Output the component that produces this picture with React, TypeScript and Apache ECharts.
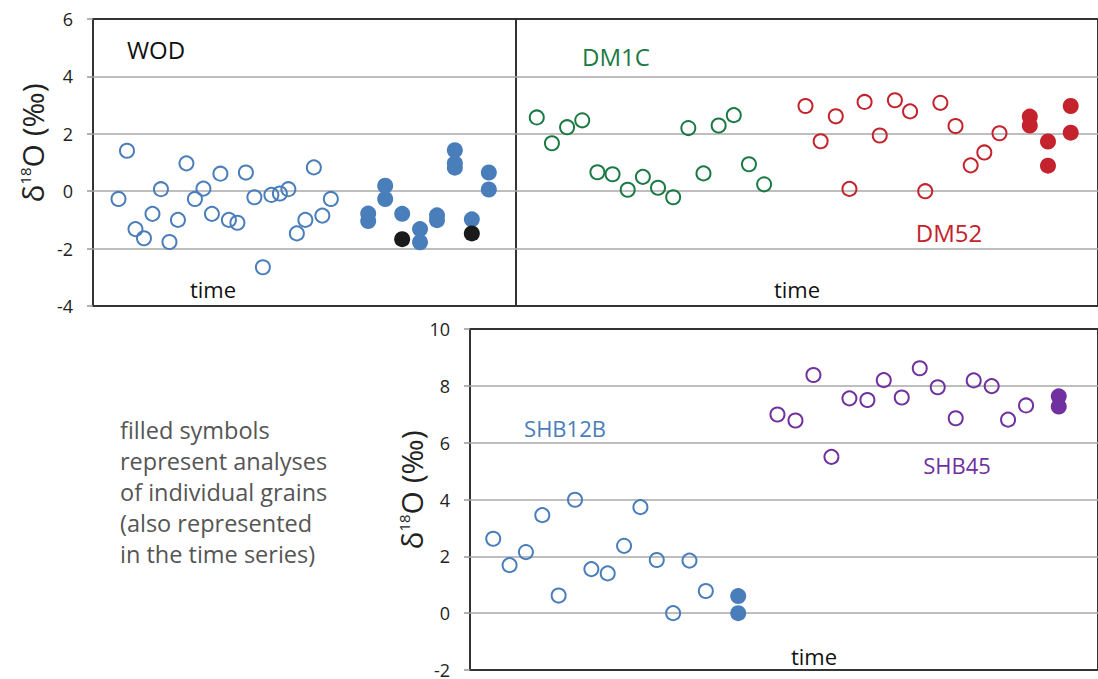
import { useEffect, useRef } from "react";
import * as echarts from "echarts";

const FONT = "'Open Sans', 'Noto Sans', sans-serif";

// Colours of the four sample groups
const BLUE = "#4a7ebb";
const GREEN = "#1b7a44";
const RED = "#c4222c";
const PURPLE = "#7030a0";
const BLACK = "#1a1a1a";

// Y axis ticks
const topTicks = { min: -4, max: 6, step: 2 };
const bottomTicks = { min: -2, max: 10, step: 2 };

// WOD: time series (open) and single grains (filled)
const wodOpenT = [3, 4, 5, 6, 7, 8, 9, 10, 11, 12, 13, 14, 15, 16, 17, 18, 19, 20, 21, 22, 23, 24, 25, 26, 27, 28];
const wodOpenV = [-0.27, 1.41, -1.32, -1.64, -0.79, 0.07, -1.77, -1.0, 0.97, -0.27, 0.09, -0.79, 0.61, -1.0, -1.1, 0.65, -0.21, -2.65, -0.13, -0.08, 0.07, -1.47, -1.0, 0.83, -0.85, -0.27];
const wodGrainT = [32.4, 32.4, 34.4, 34.4, 36.4, 38.5, 38.5, 40.5, 40.5, 42.6, 42.6, 42.6, 44.6, 46.6, 46.6];
const wodGrainV = [-0.78, -1.04, 0.19, -0.27, -0.79, -1.32, -1.78, -0.84, -1.01, 1.43, 0.97, 0.82, -0.98, 0.65, 0.06];
const wodDarkT = [36.4, 44.6];
const wodDarkV = [-1.67, -1.47];

// DM1C time series
const dm1cT = [1.37, 2.37, 3.37, 4.37, 5.37, 6.37, 7.37, 8.37, 9.37, 10.37, 11.37, 12.37, 13.37, 14.37, 15.37, 16.37];
const dm1cV = [2.57, 1.67, 2.23, 2.47, 0.66, 0.59, 0.05, 0.5, 0.12, -0.21, 2.2, 0.62, 2.29, 2.65, 0.94, 0.24];

// DM52 time series and single grains
const dm52T = [19.1, 20.1, 21.1, 22.0, 23.0, 24.0, 25.0, 26.0, 27.0, 28.0, 29.0, 30.0, 30.9, 31.9];
const dm52V = [2.97, 1.74, 2.61, 0.08, 3.11, 1.94, 3.17, 2.78, 0.0, 3.08, 2.27, 0.9, 1.35, 2.02];
const dm52GrainT = [33.9, 33.9, 35.1, 35.1, 36.6, 36.6];
const dm52GrainV = [2.6, 2.29, 1.73, 0.89, 2.97, 2.04];

// SHB12B time series and single grains
const shb12T = [1.42, 2.42, 3.42, 4.42, 5.42, 6.42, 7.42, 8.42, 9.42, 10.42, 11.42, 12.42, 13.42, 14.42];
const shb12V = [2.62, 1.69, 2.15, 3.45, 0.62, 3.99, 1.55, 1.4, 2.37, 3.73, 1.87, 0.0, 1.85, 0.78];
const shb12GrainT = [16.4, 16.4];
const shb12GrainV = [0.6, 0.0];

// SHB45 time series and single grains
const shb45T = [18.8, 19.9, 21.0, 22.1, 23.2, 24.3, 25.3, 26.4, 27.5, 28.6, 29.7, 30.8, 31.9, 32.9, 34.0];
const shb45V = [6.99, 6.78, 8.38, 5.5, 7.56, 7.5, 8.2, 7.59, 8.62, 7.95, 6.86, 8.19, 7.99, 6.81, 7.31];
const shb45GrainT = [36.0, 36.0];
const shb45GrainV = [7.63, 7.27];

const noteLines = [
  "filled symbols",
  "represent analyses",
  "of individual grains",
  "(also represented",
  "in the time series)",
];

const pairs = (t: number[], v: number[]) => t.map((x, i) => [x, v[i]]);

const openSeries = (name: string, t: number[], v: number[], color: string, idx: number) => ({
  name,
  type: "scatter",
  xAxisIndex: idx,
  yAxisIndex: idx,
  data: pairs(t, v),
  symbol: "circle",
  symbolSize: 14,
  itemStyle: { color: "rgba(255,255,255,0)", borderColor: color, borderWidth: 2, opacity: 1 },
  z: 3,
});

const filledSeries = (name: string, t: number[], v: number[], color: string, idx: number) => ({
  name,
  type: "scatter",
  xAxisIndex: idx,
  yAxisIndex: idx,
  data: pairs(t, v),
  symbol: "circle",
  symbolSize: 16,
  itemStyle: { color, opacity: 1 },
  z: 4,
});

const yAxisBase = (ticks: { min: number; max: number; step: number }, gridIndex: number, labels: boolean) => ({
  type: "value",
  gridIndex,
  min: ticks.min,
  max: ticks.max,
  interval: ticks.step,
  axisLine: { show: false },
  axisTick: { show: labels, length: 6, lineStyle: { color: "#999", width: 1.5 } },
  axisLabel: { show: labels, margin: 20, fontSize: 18, color: "#222", fontFamily: FONT },
  splitLine: { show: true, showMinLine: false, showMaxLine: false, lineStyle: { color: "#a8a8a8", width: 1.5 } },
});

const xAxisBase = (gridIndex: number, max: number) => ({
  type: "value",
  gridIndex,
  min: 0,
  max,
  axisLine: { show: false },
  axisTick: { show: false },
  axisLabel: { show: false },
  splitLine: { show: false },
});

const gridBase = { show: true, borderColor: "#333", borderWidth: 2, backgroundColor: "transparent" };

const yTitle = (x: number, y: number) => ({
  type: "text",
  x,
  y,
  rotation: Math.PI / 2,
  style: {
    text: "{a|δ}{s|18}{a|O (‰)}",
    align: "center",
    verticalAlign: "middle",
    textAlign: "center",
    textVerticalAlign: "middle",
    fill: "#222",
    rich: {
      a: { fontSize: 30, fontFamily: FONT, fill: "#222", color: "#222" },
      s: { fontSize: 15, fontFamily: FONT, fill: "#222", color: "#222", verticalAlign: "top" },
    },
  },
});

const label = (text: string, x: number, y: number, color: string, size: number) => ({
  type: "text",
  x,
  y,
  style: {
    text,
    fill: color,
    fontSize: size,
    fontFamily: FONT,
    align: "center",
    verticalAlign: "middle",
    textAlign: "center",
    textVerticalAlign: "middle",
  },
});

export default function App() {
  const ref = useRef<HTMLDivElement>(null);

  useEffect(() => {
    if (!ref.current) return;
    const chart = echarts.init(ref.current, undefined, { renderer: "svg" });

    chart.setOption({
      animation: false,
      backgroundColor: "#fff",
      grid: [
        { ...gridBase, left: 93, top: 19, width: 423, height: 287 },
        { ...gridBase, left: 516, top: 19, width: 590, height: 287 },
        { ...gridBase, left: 470, top: 329, width: 636, height: 344 },
      ],
      xAxis: [xAxisBase(0, 49.8), xAxisBase(1, 38.4), xAxisBase(2, 38.4)],
      yAxis: [
        yAxisBase(topTicks, 0, true),
        yAxisBase(topTicks, 1, false),
        yAxisBase(bottomTicks, 2, true),
      ],
      series: [
        openSeries("WOD", wodOpenT, wodOpenV, BLUE, 0),
        filledSeries("WOD grains", wodGrainT, wodGrainV, BLUE, 0),
        filledSeries("WOD grains (dark)", wodDarkT, wodDarkV, BLACK, 0),
        openSeries("DM1C", dm1cT, dm1cV, GREEN, 1),
        openSeries("DM52", dm52T, dm52V, RED, 1),
        filledSeries("DM52 grains", dm52GrainT, dm52GrainV, RED, 1),
        openSeries("SHB12B", shb12T, shb12V, BLUE, 2),
        filledSeries("SHB12B grains", shb12GrainT, shb12GrainV, BLUE, 2),
        openSeries("SHB45", shb45T, shb45V, PURPLE, 2),
        filledSeries("SHB45 grains", shb45GrainT, shb45GrainV, PURPLE, 2),
      ],
      graphic: [
        yTitle(32, 143),
        yTitle(411, 490),
        label("WOD", 156, 49, "#111", 24),
        label("DM1C", 616, 56, GREEN, 24),
        label("DM52", 949, 232, RED, 24),
        label("SHB12B", 565, 428, BLUE, 22),
        label("SHB45", 957, 465, PURPLE, 22),
        label("time", 213, 289, "#111", 22),
        label("time", 797, 289, "#111", 22),
        label("time", 814, 656, "#111", 22),
        ...noteLines.map((t, i) => ({
          type: "text",
          x: 120,
          y: 430 + i * 31,
          style: {
            text: t,
            fill: "#555",
            fontSize: 23.5,
            fontFamily: FONT,
            align: "left",
            verticalAlign: "middle",
            textAlign: "left",
            textVerticalAlign: "middle",
          },
        })),
      ],
    });

    return () => chart.dispose();
  }, []);

  return (
    <div
      ref={ref}
      style={{ position: "fixed", left: 0, top: 0, width: 1098, height: 679 }}
    />
  );
}
